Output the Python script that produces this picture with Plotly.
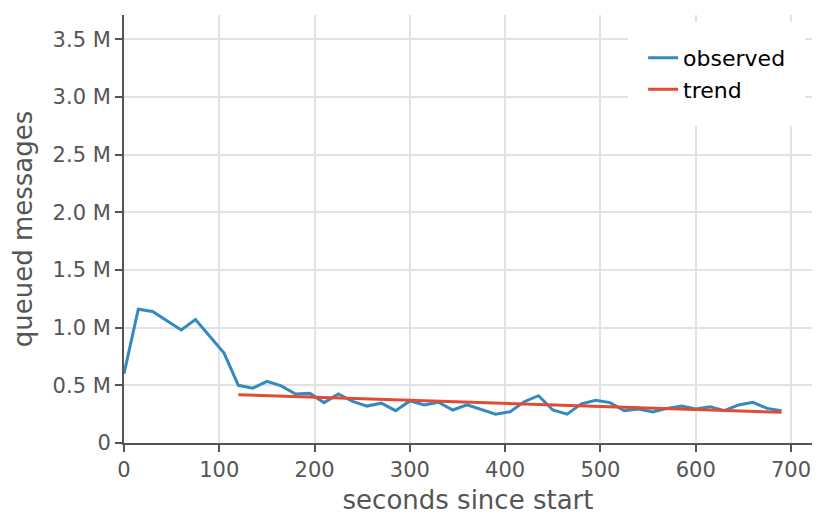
import plotly.graph_objects as go

# observed queue depth, sampled every 15 s
t_obs = list(range(0, 691, 15))
q_obs = [0.60, 1.16, 1.14, 1.06, 0.98, 1.07, 0.92, 0.78, 0.50, 0.475, 0.535, 0.495, 0.425,
         0.43, 0.35, 0.425, 0.36, 0.32, 0.345, 0.28, 0.365, 0.33, 0.353, 0.286, 0.33,
         0.29, 0.25, 0.27, 0.358, 0.41, 0.286, 0.25, 0.34, 0.37, 0.35, 0.28, 0.295,
         0.27, 0.30, 0.32, 0.295, 0.315, 0.28, 0.33, 0.353, 0.30, 0.28]
q_obs = [v * 1e6 for v in q_obs]

# fitted trend from t=120 onward
t_trend = [120, 690]
q_trend = [0.419e6, 0.266e6]

y_ticks = [0, 0.5e6, 1.0e6, 1.5e6, 2.0e6, 2.5e6, 3.0e6, 3.5e6]
y_labels = ["0", "0.5 M", "1.0 M", "1.5 M", "2.0 M", "2.5 M", "3.0 M", "3.5 M"]

fig = go.Figure()
fig.add_trace(go.Scatter(x=t_obs, y=q_obs, mode="lines", name="observed",
                         line=dict(color="#348ABD", width=3)))
fig.add_trace(go.Scatter(x=t_trend, y=q_trend, mode="lines", name="trend",
                         line=dict(color="#E24A33", width=3)))

axis_style = dict(showline=True, linecolor="#555555", linewidth=2, automargin=False,
                  ticks="outside", ticklen=7, tickwidth=1.5, tickcolor="#555555",
                  showgrid=True, gridcolor="#e2e2e2", gridwidth=1.5,
                  zeroline=False, tickfont=dict(size=21, color="#555555"),
                  title_font=dict(size=26, color="#555555"))

fig.update_xaxes(range=[0, 722], tickvals=[0, 100, 200, 300, 400, 500, 600, 700],
                 title_text="seconds since start", title_standoff=10, **axis_style)
fig.update_yaxes(range=[0, 3.71e6], tickvals=y_ticks, ticktext=y_labels,
                 title_text="queued messages", title_standoff=12, **axis_style)

# page body adds an 8px offset, so margins are trimmed to match
fig.update_layout(
    width=830, height=530,
    margin=dict(l=116, r=26, t=7, b=95),
    plot_bgcolor="white", paper_bgcolor="white",
    font=dict(family="DejaVu Sans", color="#555555"),
    legend=dict(x=0.99, y=0.984, xanchor="right", yanchor="top",
                bgcolor="white", bordercolor="white", borderwidth=15,
                font=dict(size=22, color="black"), itemwidth=30),
)

fig.write_html("out.html")
